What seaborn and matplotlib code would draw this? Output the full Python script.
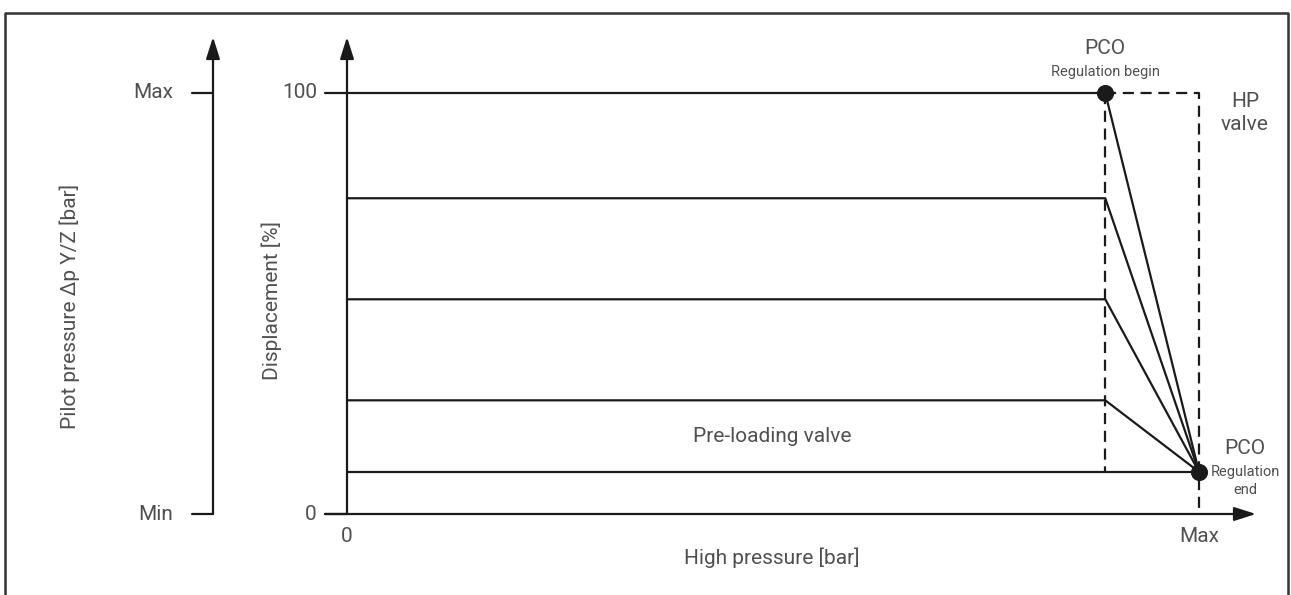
import numpy as np
import pandas as pd
import matplotlib
matplotlib.use("Agg")
import matplotlib.pyplot as plt
import seaborn as sns

# ---- data ----
levels = [100, 75, 51, 27]          # displacement levels [%]
reg_begin = 0.89                    # high pressure at regulation begin (fraction of Max)
reg_end = 1.0                       # high pressure at regulation end (Max)
min_level = 10                      # displacement at regulation end [%]
y_ticks = [0, 100]
y_ticklabels = ["0", "100"]
x_ticks = [0, 1.0]
x_ticklabels = ["0", "Max"]
pilot_ticks = [0, 100]
pilot_ticklabels = ["Min", "Max"]

sns.set_theme(style="white")
plt.rcParams['font.family'] = ['Roboto', 'DejaVu Sans']
TXT = "#505050"
LC = "#1a1a1a"
FW = "normal"

W, H = 1291, 595
fig = plt.figure(figsize=(W / 100, H / 100), dpi=100)
ax = fig.add_axes([0, 0, 1, 1])

# pixel mapping: x=0 -> px 347, x=1 -> px 1199 ; y=0 -> py 514, y=100 -> py 93
x0p, x1p = 347, 1199
y0p, y100p = 514, 93
sx = (x1p - x0p)
sy = (y0p - y100p) / 100.0
ax.set_xlim(-x0p / sx, (W - x0p) / sx)
ax.set_ylim(-(H - y0p) / sy, y0p / sy)
ax.axis("off")

def px(p):
    return (p - x0p) / sx

def py(p):
    return (y0p - p) / sy

# build segments
rows = []
for i, lev in enumerate(levels):
    rows.append(dict(seg=f"h{i}", x=0.0, y=lev))
    rows.append(dict(seg=f"h{i}", x=reg_begin, y=lev))
    rows.append(dict(seg=f"h{i}", x=reg_end, y=min_level))
rows.append(dict(seg="base", x=0.0, y=min_level))
rows.append(dict(seg="base", x=reg_end, y=min_level))
df = pd.DataFrame(rows)
sns.lineplot(data=df, x="x", y="y", units="seg", estimator=None, sort=False,
             color=LC, lw=1.6, ax=ax, legend=False)

# dashed lines
drows = [dict(seg="d1", x=reg_begin, y=levels[0]), dict(seg="d1", x=reg_begin, y=min_level),
         dict(seg="d2", x=reg_begin, y=levels[0]), dict(seg="d2", x=reg_end, y=levels[0]),
         dict(seg="d2", x=reg_end, y=0)]
dd = pd.DataFrame(drows)
sns.lineplot(data=dd, x="x", y="y", units="seg", estimator=None, sort=False,
             color=LC, lw=1.6, ls=(0, (5, 3)), ax=ax, legend=False)

# points
pts = pd.DataFrame(dict(x=[reg_begin, reg_end], y=[levels[0], min_level]))
sns.scatterplot(data=pts, x="x", y="y", s=130, color=LC, edgecolor=LC, zorder=5, ax=ax)

# main axes with arrows
arrow = dict(arrowstyle="-|>,head_length=1.1,head_width=0.35", color=LC, lw=1.6,
             shrinkA=0, shrinkB=0)
ax.annotate("", xy=(0, py(37)), xytext=(0, 0), arrowprops=arrow)
ax.annotate("", xy=(px(1256), 0), xytext=(px(325), 0), arrowprops=arrow)
xl = px(213)
ax.annotate("", xy=(xl, py(37)), xytext=(xl, 0), arrowprops=arrow)

# ticks
for v, lab in zip(y_ticks, y_ticklabels):
    ax.plot([px(325), 0], [v, v], color=LC, lw=1.6)
    ax.text(px(317), v, lab, ha="right", va="center", fontsize=15, color=TXT, fontweight=FW)
for v, lab in zip(pilot_ticks, pilot_ticklabels):
    ax.plot([px(192), xl], [v, v], color=LC, lw=1.6)
    ax.text(px(173), v, lab, ha="right", va="center", fontsize=15, color=TXT, fontweight=FW)
for v, lab in zip(x_ticks, x_ticklabels):
    ax.text(v, py(537), lab, ha="center", va="center", fontsize=15, color=TXT, fontweight=FW)

# labels
ax.text(px(772), py(558), "High pressure [bar]", ha="center", va="center", fontsize=15,
        color=TXT, fontweight=FW)
ax.text(px(272), py(300), "Displacement [%]", ha="center", va="center", rotation=90,
        fontsize=15, color=TXT, fontweight=FW)
ax.text(px(70), py(306), "Pilot pressure Δp Y/Z [bar]", ha="center", va="center", rotation=90,
        fontsize=15, color=TXT, fontweight=FW)
ax.text(px(772), py(436), "Pre-loading valve", ha="center", va="center", fontsize=15,
        color=TXT, fontweight=FW)
ax.text(reg_begin, py(48), "PCO", ha="center", va="center", fontsize=15, color=TXT, fontweight=FW)
ax.text(reg_begin, py(72), "Regulation begin", ha="center", va="center", fontsize=10.5, color=TXT, fontweight=FW)
ax.text(px(1245), py(113), "HP\nvalve", ha="center", va="center", fontsize=15, color=TXT,
        fontweight=FW, linespacing=1.3)
ax.text(px(1245), py(448), "PCO", ha="center", va="center", fontsize=15, color=TXT, fontweight=FW)
ax.text(px(1245), py(481), "Regulation\nend", ha="center", va="center", fontsize=10.5, color=TXT,
        fontweight=FW, linespacing=1.3)

# frame (top, left, right; bottom runs off the image)
ax.plot([px(5), px(5), px(1288), px(1288)], [py(600), py(13), py(13), py(600)],
        color="#333333", lw=1.8, clip_on=False)

fig.savefig("out.png", dpi=100)
